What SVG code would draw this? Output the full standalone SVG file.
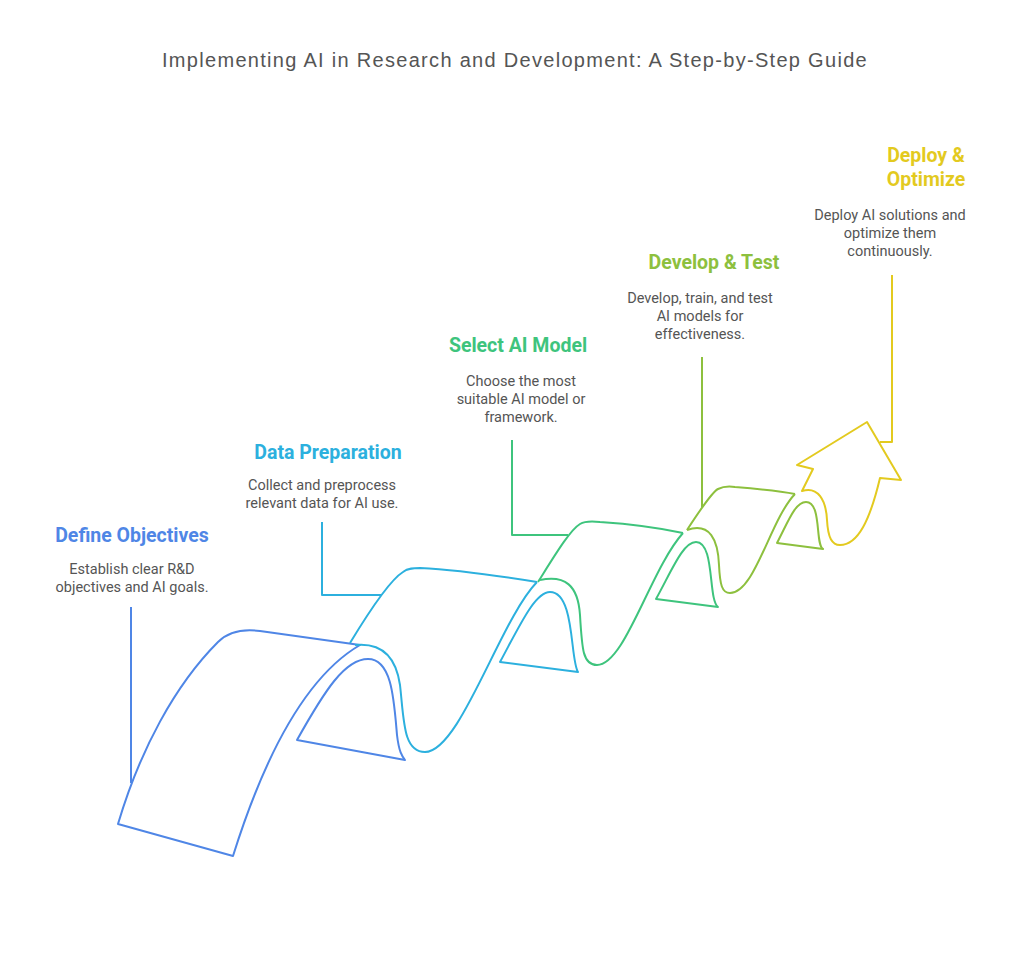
<svg xmlns="http://www.w3.org/2000/svg" width="1024" height="953" viewBox="0 0 1024 953">
<style>
.t{font-family:"Liberation Sans",Arial,sans-serif;font-size:20px;letter-spacing:1.3px;fill:#555;text-anchor:middle}
.h{font-family:Roboto,"Liberation Sans",sans-serif;font-size:19.5px;font-weight:bold;text-anchor:middle}
.d{font-family:Roboto,"Liberation Sans",sans-serif;font-size:14.5px;fill:#555;text-anchor:middle}
path{fill:none;stroke-width:2;stroke-linejoin:round}
</style>
<rect width="1024" height="953" fill="#fff"/>
<text class="t" x="515" y="67">Implementing AI in Research and Development: A Step-by-Step Guide</text>
<g id="connectors">
<path d="M131,607 V783" stroke="#4f86e6"/>
<path d="M322,522 V595 H382" stroke="#2cb0de"/>
<path d="M512,440 V535 H568" stroke="#3ec47d"/>
<path d="M702,357 V507" stroke="#8dc03e"/>
<path d="M892,275 V442 H880" stroke="#e3ca1f"/>
</g>
<g id="step1">
<path stroke="#4f86e6" d="M118,824 L233,856 C260,770 300,680 360,645 L260,631 C245,629 230,630 218,642 C175,685 140,750 118,824 Z"/>
<path stroke="#4f86e6" d="M297,740 C325,690 345,659 368,659 C392,659 394,700 397,735 C399,752 402,756 405,760 Z"/>
<text class="h" x="132" y="542" fill="#4f86e6">Define Objectives</text>
<text class="d" x="132" y="574">Establish clear R&amp;D</text>
<text class="d" x="132" y="592">objectives and AI goals.</text>
</g>
<g id="step2">
<path stroke="#2cb0de" d="M350,643 C370,610 390,580 403,572 C408,568 414,568 420,568 C460,570 500,576 537,582"/>
<path stroke="#2cb0de" d="M355,645 C375,643 395,650 400,685 C404,720 403,752 425,752 C460,752 500,620 537,582"/>
<path stroke="#2cb0de" d="M500,662 C520,625 535,592 550,592 C575,592 570,660 578,672 Z"/>
<text class="h" x="328" y="459" fill="#2cb0de">Data Preparation</text>
<text class="d" x="322" y="490">Collect and preprocess</text>
<text class="d" x="322" y="508">relevant data for AI use.</text>
</g>
<g id="step3">
<path stroke="#3ec47d" d="M538,582 C555,555 570,530 580,524 C585,521 592,521 600,522 C630,524 660,528 683,533"/>
<path stroke="#3ec47d" d="M540,580 C565,575 578,585 580,615 C582,650 583,665 597,665 C625,665 650,570 683,533"/>
<path stroke="#3ec47d" d="M656,599 C672,570 683,542 696,542 C715,542 708,600 718,607 Z"/>
<text class="h" x="518" y="352" fill="#3ec47d">Select AI Model</text>
<text class="d" x="521" y="386">Choose the most</text>
<text class="d" x="521" y="404">suitable AI model or</text>
<text class="d" x="521" y="422">framework.</text>
</g>
<g id="step4">
<path stroke="#8dc03e" d="M687,530 C700,510 712,492 718,489 C722,487 728,486 735,487 C760,489 780,491 795,494"/>
<path stroke="#8dc03e" d="M687,530 C710,522 718,540 719,565 C720,585 722,593 730,593 C755,593 770,520 795,494"/>
<path stroke="#8dc03e" d="M777,543 C788,522 795,502 806,502 C822,502 815,545 823,549 Z"/>
<text class="h" x="714" y="269" fill="#8dc03e">Develop &amp; Test</text>
<text class="d" x="700" y="303">Develop, train, and test</text>
<text class="d" x="700" y="321">AI models for</text>
<text class="d" x="700" y="339">effectiveness.</text>
</g>
<g id="step5">
<path stroke="#e3ca1f" d="M802,491 C818,486 826,500 827,520 C828,538 832,545 840,545 C858,545 870,520 880,478 L901,480 L867,422 L797,465 L813,469 Z"/>
<text class="h" x="926" y="162" fill="#e3ca1f">Deploy &amp;</text>
<text class="h" x="926" y="186" fill="#e3ca1f">Optimize</text>
<text class="d" x="890" y="220">Deploy AI solutions and</text>
<text class="d" x="890" y="238">optimize them</text>
<text class="d" x="890" y="256">continuously.</text>
</g>
</svg>
